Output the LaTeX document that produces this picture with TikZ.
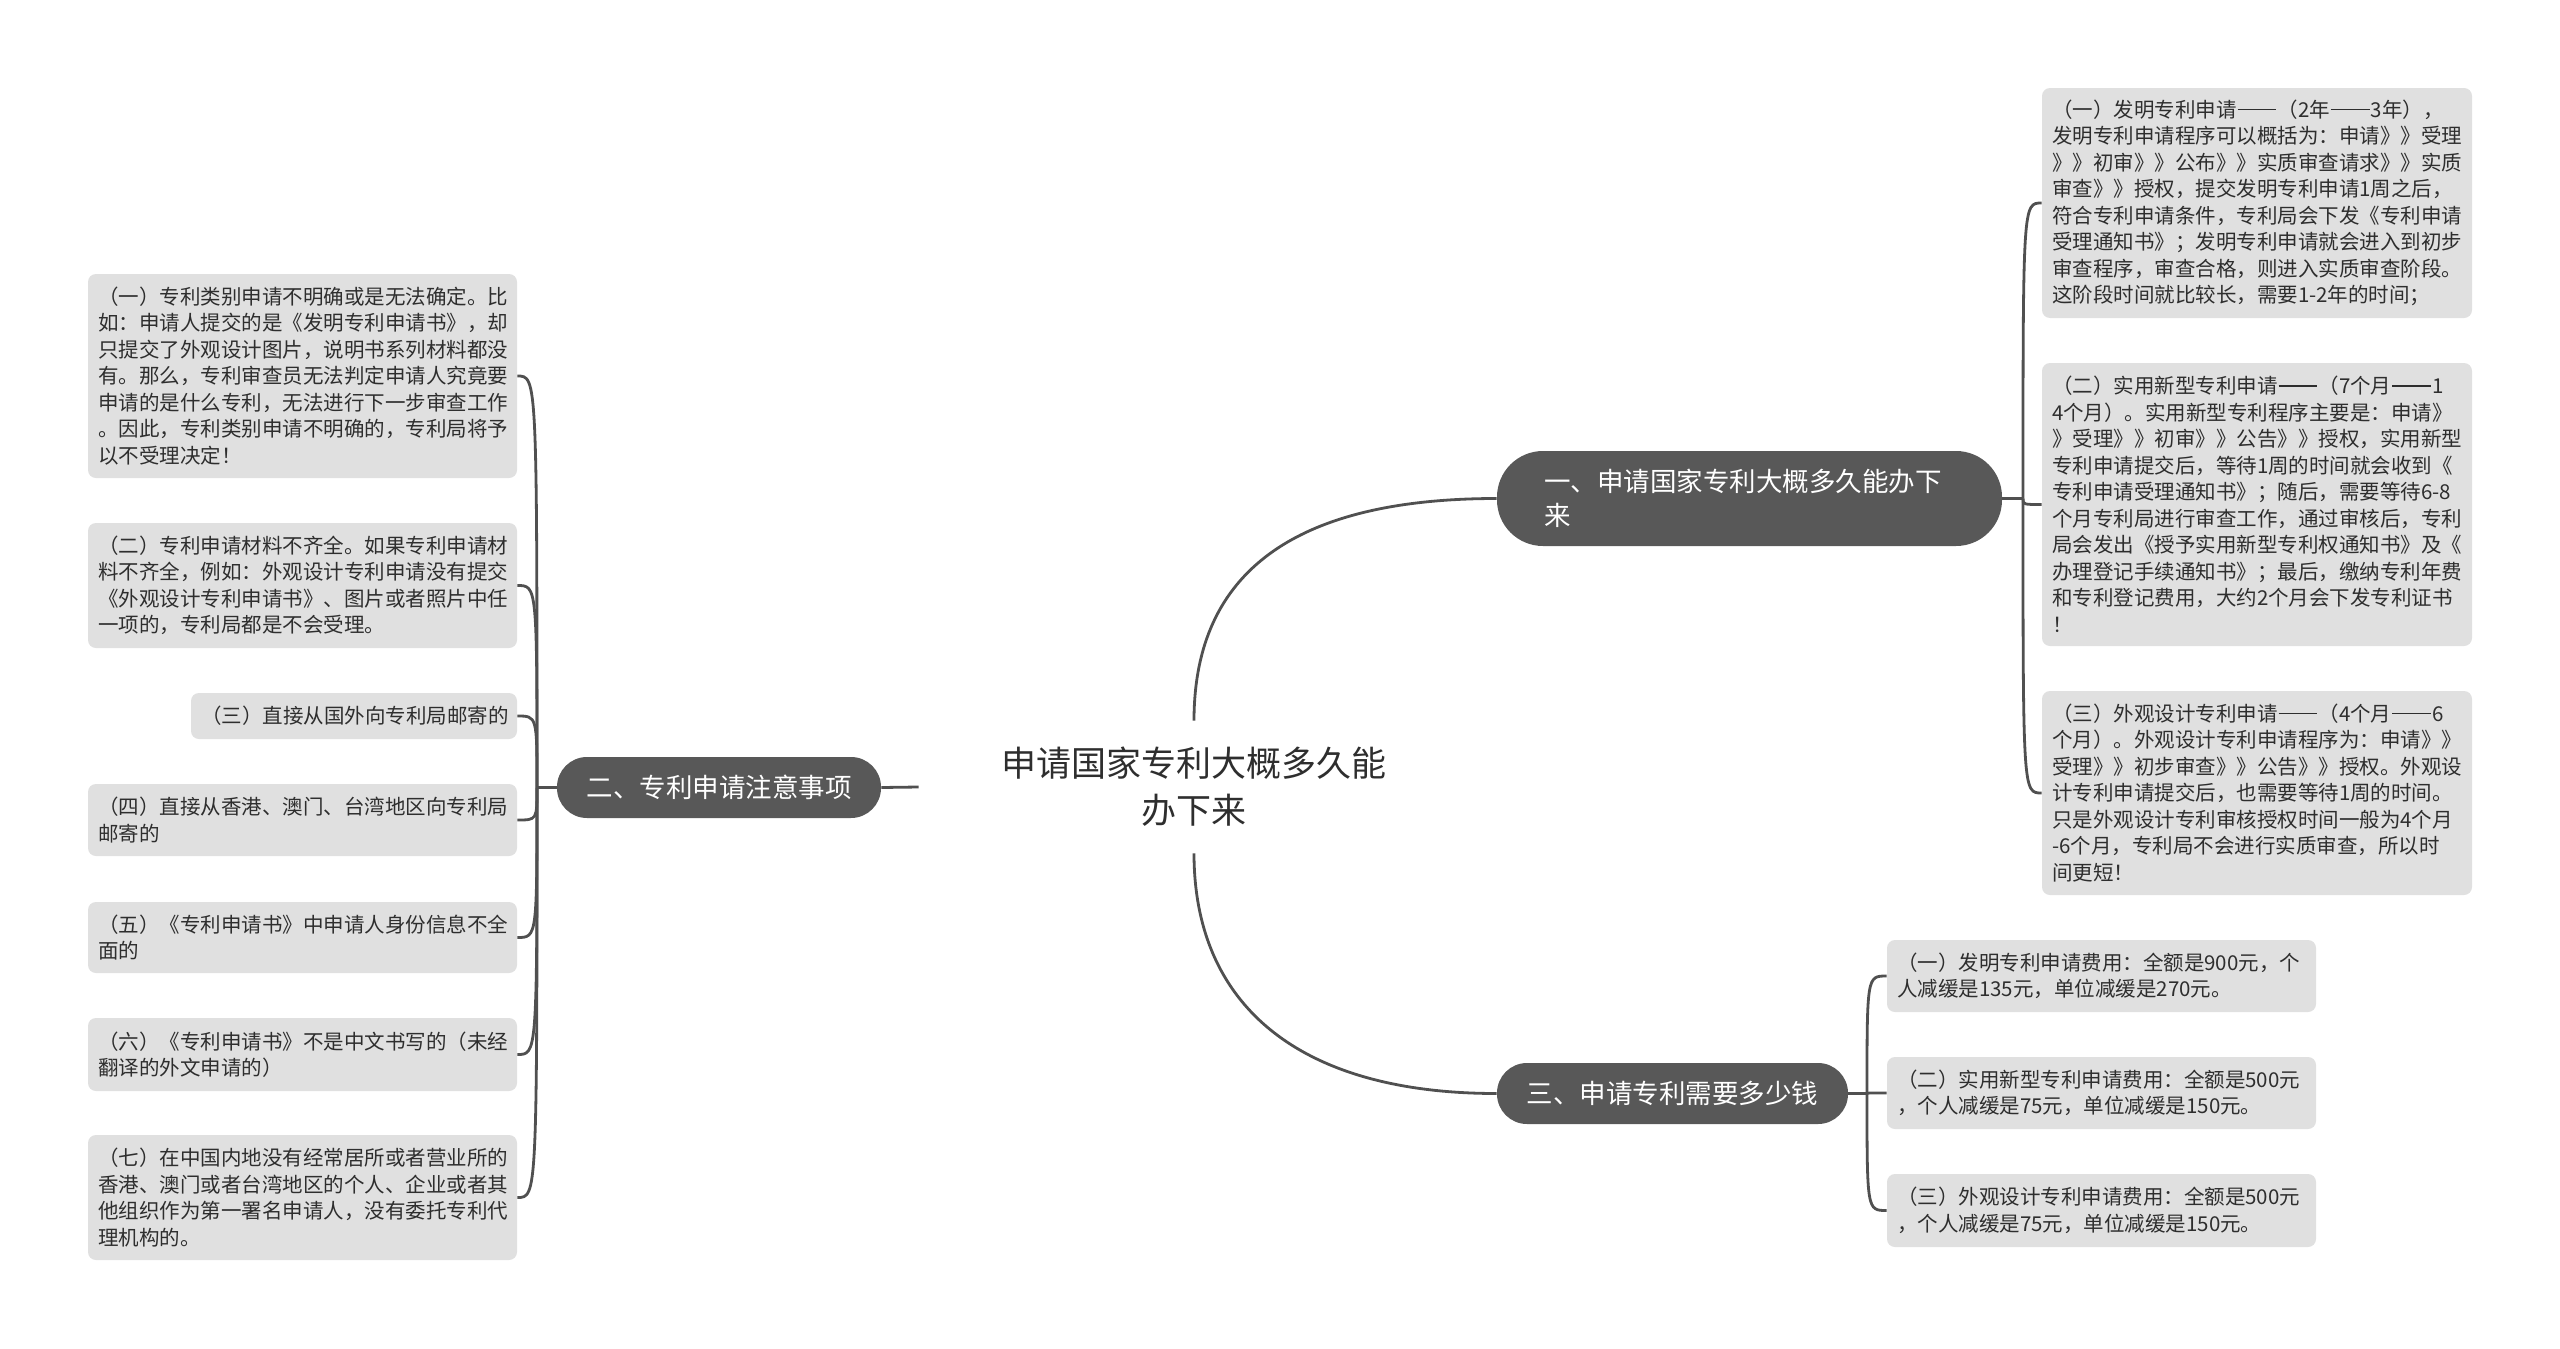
\documentclass[tikz,border=0pt]{standalone}
\usepackage{fontspec}
\newfontfamily\cjk{Noto Sans CJK SC}
\definecolor{leaffill}{HTML}{E0E0E0}
\definecolor{mainfill}{HTML}{585858}
\definecolor{linec}{HTML}{505050}
\definecolor{txt}{HTML}{2E2E2E}
\newcommand\ddash{\kern0.05em\rule[0.36em]{1.9em}{0.065em}\kern0.05em}
\begin{document}
\begin{tikzpicture}[x=0.5pt,y=-0.5pt,
  leaf/.style={fill=leaffill, rounded corners=4pt, inner xsep=5pt, inner ysep=0pt,
    align=left, text=txt, font=\cjk\fontsize{10.25pt}{13.25pt}\selectfont},
  mainnode/.style={fill=mainfill, text=white, inner ysep=0pt,
    font=\cjk\fontsize{13.25pt}{17pt}\selectfont},
  conn/.style={draw=linec, line width=1.4pt}
]
\fill[white] (0,0) rectangle (2560,1349);
\useasboundingbox (0,0) rectangle (2560,1349);

% centre topic
\node[align=center, text=txt, minimum width=275pt, minimum height=66pt, inner sep=0pt,
  font=\cjk\fontsize{17.5pt}{23.5pt}\selectfont] (ctr) at (1194,787)
  {申请国家专利大概多久能\\办下来};

% main topics
\node[mainnode, rounded corners=23pt, minimum height=47.5pt, text width=205.5pt,
  inner xsep=23.5pt, align=left] (m1) at (1749.5,498.5)
  {一、申请国家专利大概多久能办下\\来};
\node[mainnode, rounded corners=15pt, minimum height=30.5pt, minimum width=162pt,
  align=center] (m2) at (719,787.5) {二、专利申请注意事项};
\node[mainnode, rounded corners=15pt, minimum height=30.5pt, minimum width=175.5pt,
  align=center] (m3) at (1672.5,1093.5) {三、申请专利需要多少钱};

% right group 1
\node[leaf, text width=205pt, minimum height=115pt] (r1) at (2257,203)
  {（一）发明专利申请\ddash（2年\ddash 3年），\\
   发明专利申请程序可以概括为：申请》》受理\\
   》》初审》》公布》》实质审查请求》》实质\\
   审查》》授权，提交发明专利申请1周之后，\\
   符合专利申请条件，专利局会下发《专利申请\\
   受理通知书》；发明专利申请就会进入到初步\\
   审查程序，审查合格，则进入实质审查阶段。\\
   这阶段时间就比较长，需要1-2年的时间；};
\node[leaf, text width=205pt, minimum height=141.5pt] (r2) at (2257,504.5)
  {（二）实用新型专利申请\ddash（7个月\ddash 1\\
   4个月）。实用新型专利程序主要是：申请》\\
   》受理》》初审》》公告》》授权，实用新型\\
   专利申请提交后，等待1周的时间就会收到《\\
   专利申请受理通知书》；随后，需要等待6-8\\
   个月专利局进行审查工作，通过审核后，专利\\
   局会发出《授予实用新型专利权通知书》及《\\
   办理登记手续通知书》；最后，缴纳专利年费\\
   和专利登记费用，大约2个月会下发专利证书\\
   ！};
\node[leaf, text width=205pt, minimum height=102pt] (r3) at (2257,793)
  {（三）外观设计专利申请\ddash（4个月\ddash 6\\
   个月）。外观设计专利申请程序为：申请》》\\
   受理》》初步审查》》公告》》授权。外观设\\
   计专利申请提交后，也需要等待1周的时间。\\
   只是外观设计专利审核授权时间一般为4个月\\
   -6个月，专利局不会进行实质审查，所以时\\
   间更短！};

% right group 3
\node[leaf, text width=204.5pt, minimum height=36pt] (c1) at (2101.5,976)
  {（一）发明专利申请费用：全额是900元，个\\
   人减缓是135元，单位减缓是270元。};
\node[leaf, text width=204.5pt, minimum height=36pt] (c2) at (2101.5,1093)
  {（二）实用新型专利申请费用：全额是500元\\
   ，个人减缓是75元，单位减缓是150元。};
\node[leaf, text width=204.5pt, minimum height=36.5pt] (c3) at (2101.5,1210.5)
  {（三）外观设计专利申请费用：全额是500元\\
   ，个人减缓是75元，单位减缓是150元。};

% left group
\node[leaf, text width=204.5pt, minimum height=102pt] (l1) at (302.5,376)
  {（一）专利类别申请不明确或是无法确定。比\\
   如：申请人提交的是《发明专利申请书》，却\\
   只提交了外观设计图片，说明书系列材料都没\\
   有。那么，专利审查员无法判定申请人究竟要\\
   申请的是什么专利，无法进行下一步审查工作\\
   。因此，专利类别申请不明确的，专利局将予\\
   以不受理决定！};
\node[leaf, text width=204.5pt, minimum height=62.5pt] (l2) at (302.5,585.5)
  {（二）专利申请材料不齐全。如果专利申请材\\
   料不齐全，例如：外观设计专利申请没有提交\\
   《外观设计专利申请书》、图片或者照片中任\\
   一项的，专利局都是不会受理。};
\node[leaf, text width=153pt, minimum height=23pt] (l3) at (354,716)
  {（三）直接从国外向专利局邮寄的};
\node[leaf, text width=204.5pt, minimum height=36pt] (l4) at (302.5,820)
  {（四）直接从香港、澳门、台湾地区向专利局\\
   邮寄的};
\node[leaf, text width=204.5pt, minimum height=35.5pt] (l5) at (302.5,937.5)
  {（五）《专利申请书》中申请人身份信息不全\\
   面的};
\node[leaf, text width=204.5pt, minimum height=36.5pt] (l6) at (302.5,1054.5)
  {（六）《专利申请书》不是中文书写的（未经\\
   翻译的外文申请的）};
\node[leaf, text width=204.5pt, minimum height=62.5pt] (l7) at (302.5,1197.5)
  {（七）在中国内地没有经常居所或者营业所的\\
   香港、澳门或者台湾地区的个人、企业或者其\\
   他组织作为第一署名申请人，没有委托专利代\\
   理机构的。};

% junctions
\coordinate (j1) at (2023,498.5);
\coordinate (j2) at (537,787.5);
\coordinate (j3) at (1867,1093.5);

% centre to main topics
\draw[conn] (ctr.north) .. controls +(0,-150) and +(-200,0) .. (m1.west);
\draw[conn] (ctr.south) .. controls +(0,150) and +(-200,0) .. (m3.west);
\draw[conn] (m2.east) -- (ctr.west);

% main 1 children
\draw[conn] (m1.east) -- (j1);
\foreach \c in {r1,r2,r3}
  \draw[conn] (j1) .. controls (j1 |- \c.west) and (j1 |- \c.west) .. (\c.west);

% main 2 children
\draw[conn] (m2.west) -- (j2);
\foreach \c in {l1,l2,l3,l4,l5,l6,l7}
  \draw[conn] (j2) .. controls (j2 |- \c.east) and (j2 |- \c.east) .. (\c.east);

% main 3 children
\draw[conn] (m3.east) -- (j3);
\foreach \c in {c1,c2,c3}
  \draw[conn] (j3) .. controls (j3 |- \c.west) and (j3 |- \c.west) .. (\c.west);
\end{tikzpicture}
\end{document}
